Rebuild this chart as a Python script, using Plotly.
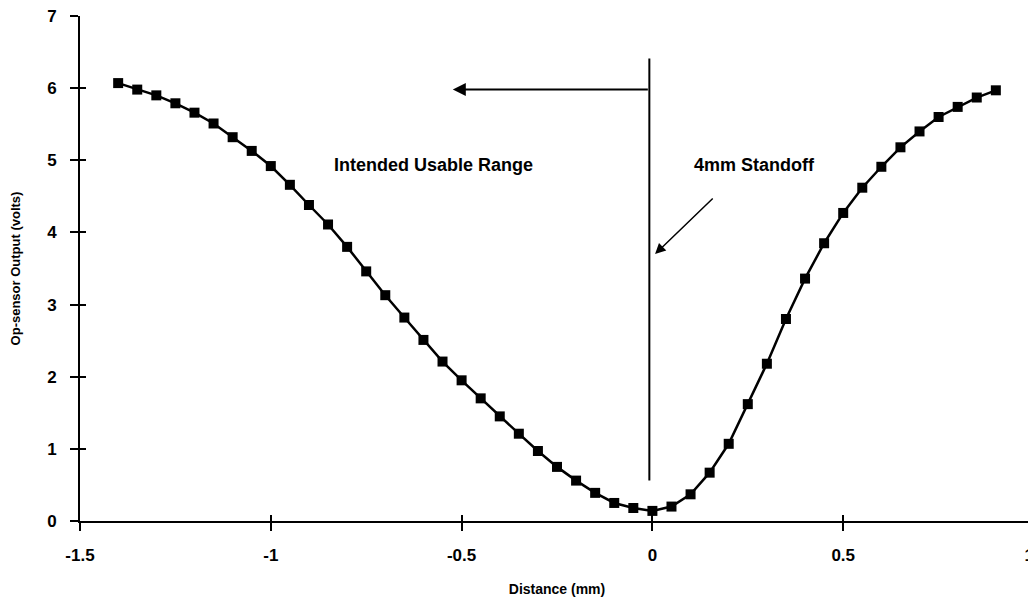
import plotly.graph_objects as go

# Data
distance_mm = [-1.4, -1.35, -1.3, -1.25, -1.2, -1.15, -1.1, -1.05, -1.0, -0.95,
               -0.9, -0.85, -0.8, -0.75, -0.7, -0.65, -0.6, -0.55, -0.5, -0.45,
               -0.4, -0.35, -0.3, -0.25, -0.2, -0.15, -0.1, -0.05, 0.0, 0.05,
               0.1, 0.15, 0.2, 0.25, 0.3, 0.35, 0.4, 0.45, 0.5, 0.55,
               0.6, 0.65, 0.7, 0.75, 0.8, 0.85, 0.9]
output_volts = [6.07, 5.98, 5.90, 5.79, 5.66, 5.51, 5.32, 5.13, 4.92, 4.66,
                4.38, 4.11, 3.80, 3.46, 3.13, 2.82, 2.51, 2.21, 1.95, 1.70,
                1.45, 1.21, 0.97, 0.75, 0.56, 0.39, 0.25, 0.18, 0.14, 0.20,
                0.37, 0.67, 1.07, 1.62, 2.18, 2.80, 3.36, 3.85, 4.27, 4.62,
                4.91, 5.18, 5.40, 5.60, 5.74, 5.87, 5.97]

x_ticks = [-1.5, -1, -0.5, 0, 0.5, 1]
x_tick_labels = ["-1.5", "-1", "-0.5", "0", "0.5", "1\u00a0\u00a0"]
y_ticks = [0, 1, 2, 3, 4, 5, 6, 7]

FONT = "Liberation Sans"
TICKFONT = dict(family=FONT, size=17, color="black", weight="bold")
X_RANGE = [-1.5, 1]
Y_RANGE = [0, 7]

fig = go.Figure()
fig.add_trace(go.Scatter(
    x=distance_mm, y=output_volts, mode="lines+markers",
    line=dict(color="black", width=2.5),
    marker=dict(symbol="square", size=10, color="black"),
    showlegend=False, cliponaxis=False,
))
# empty traces that hold overlay axes (tick labels / inner tick marks)
fig.add_trace(go.Scatter(x=[None], y=[None], xaxis="x2", yaxis="y2", showlegend=False))
fig.add_trace(go.Scatter(x=[None], y=[None], xaxis="x3", yaxis="y3", showlegend=False))

plain = dict(showgrid=False, zeroline=False, automargin=False)

fig.update_layout(
    width=1036, height=603,
    margin=dict(l=72, r=10, t=8, b=90),
    plot_bgcolor="white", paper_bgcolor="white",
    # main axes: line + outside ticks + titles
    xaxis=dict(range=X_RANGE, tickvals=x_ticks, showticklabels=False,
               showline=True, linecolor="black", linewidth=2,
               ticks="outside", ticklen=8, tickwidth=2, tickcolor="black",
               title=dict(text="Distance (mm)", standoff=54,
                          font=dict(family=FONT, size=14, color="black", weight="bold")),
               **plain),
    yaxis=dict(range=Y_RANGE, tickvals=y_ticks, showticklabels=False,
               showline=True, linecolor="black", linewidth=2,
               ticks="outside", ticklen=8, tickwidth=2, tickcolor="black",
               title=dict(text="Op-sensor Output (volts)", standoff=47,
                          font=dict(family=FONT, size=13, color="black", weight="bold")),
               **plain),
    # overlay axes 2: tick labels pushed out by transparent ticks
    xaxis2=dict(range=X_RANGE, tickvals=x_ticks, ticktext=x_tick_labels,
                overlaying="x", side="bottom", anchor="y2", tickfont=TICKFONT,
                ticklabeloverflow="allow", showline=False,
                ticks="outside", ticklen=19, tickcolor="rgba(0,0,0,0)", **plain),
    yaxis2=dict(range=Y_RANGE, tickvals=y_ticks, overlaying="y", side="left", anchor="x2",
                tickfont=TICKFONT, ticklabeloverflow="allow", showline=False,
                ticks="outside", ticklen=19, tickcolor="rgba(0,0,0,0)", **plain),
    # overlay axes 3: inner tick marks
    xaxis3=dict(range=X_RANGE, tickvals=x_ticks, overlaying="x", side="bottom", anchor="y3",
                showticklabels=False, showline=False,
                ticks="inside", ticklen=6, tickwidth=2, tickcolor="black", **plain),
    yaxis3=dict(range=Y_RANGE, tickvals=y_ticks, overlaying="y", side="left", anchor="x3",
                showticklabels=False, showline=False,
                ticks="inside", ticklen=6, tickwidth=2, tickcolor="black", **plain),
)

# Vertical marker line at standoff
fig.add_shape(type="line", x0=-0.008, x1=-0.008, y0=0.56, y1=6.41,
              line=dict(color="black", width=2))

# Horizontal arrow pointing left
fig.add_annotation(x=-0.523, y=5.98, ax=-0.008, ay=5.98, axref="x", ayref="y",
                   xref="x", yref="y", text="", showarrow=True,
                   arrowhead=2, arrowsize=1.3, arrowwidth=2, arrowcolor="black")
# Diagonal arrow to standoff
fig.add_annotation(x=0.007, y=3.70, ax=0.162, ay=4.49, axref="x", ayref="y",
                   xref="x", yref="y", text="", showarrow=True,
                   arrowhead=2, arrowsize=1.4, arrowwidth=1.5, arrowcolor="black")

fig.add_annotation(x=-0.573, y=4.94, text="Intended Usable Range", showarrow=False,
                   font=dict(family=FONT, size=18, color="black", weight="bold"))
fig.add_annotation(x=0.267, y=4.94, text="4mm Standoff", showarrow=False,
                   font=dict(family=FONT, size=18, color="black", weight="bold"))

fig.write_html("out.html")
